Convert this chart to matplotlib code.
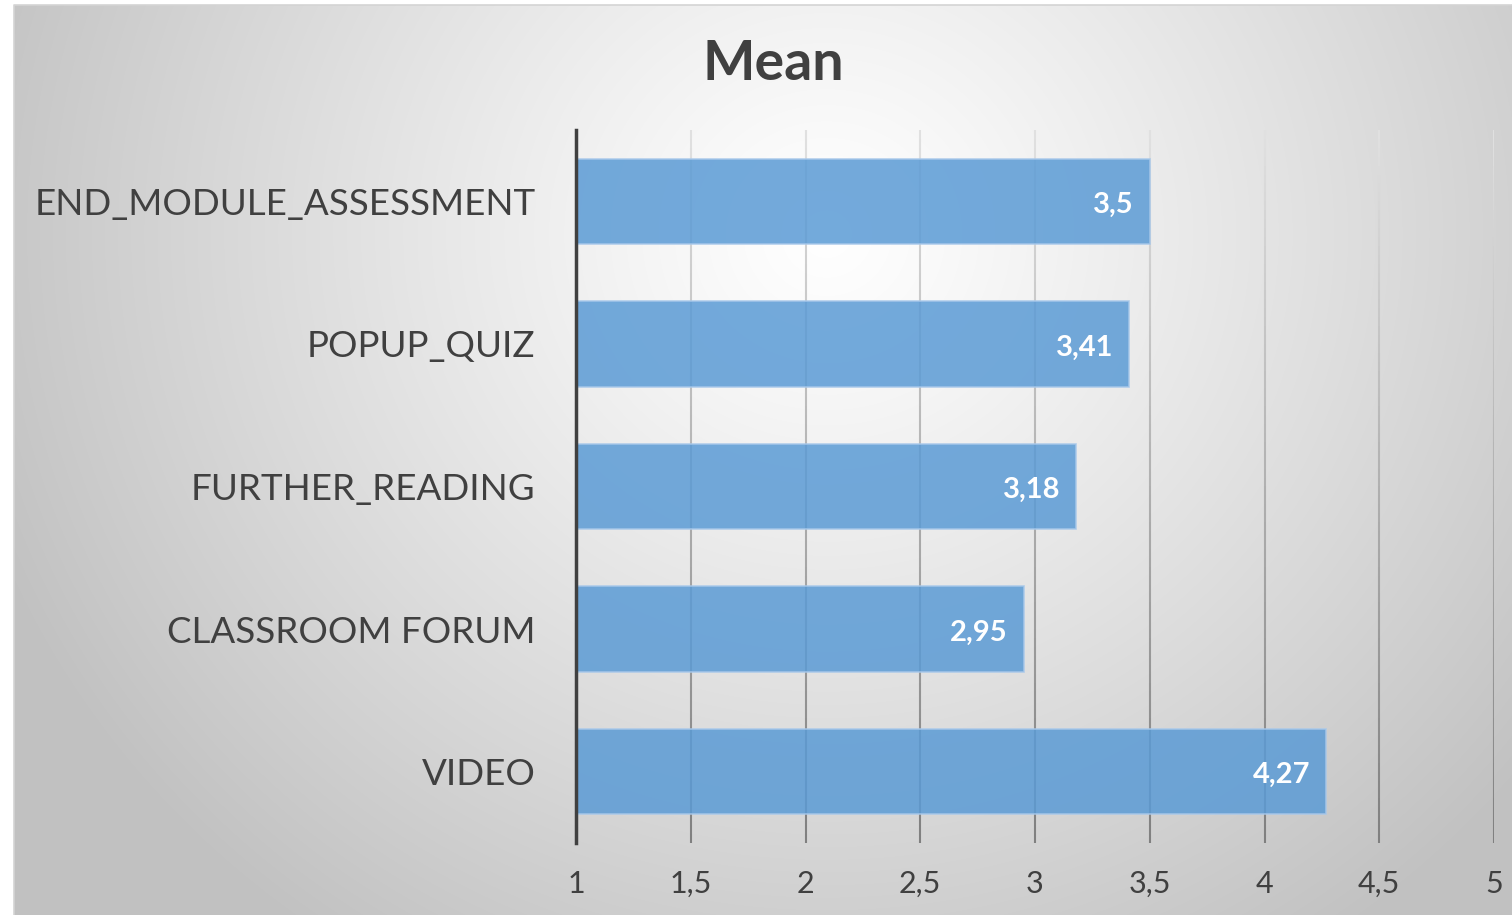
import numpy as np
import matplotlib.pyplot as plt
from matplotlib.collections import LineCollection

# ─────────────── data ───────────────
categories = ['END_MODULE_ASSESSMENT', 'POPUP_QUIZ', 'FURTHER_READING', 'CLASSROOM FORUM', 'VIDEO']
means = [3.5, 3.41, 3.18, 2.95, 4.27]
value_labels = ['3,5', '3,41', '3,18', '2,95', '4,27']
x_ticks = [1, 1.5, 2, 2.5, 3, 3.5, 4, 4.5, 5]
x_tick_labels = ['1', '1,5', '2', '2,5', '3', '3,5', '4', '4,5', '5']

plt.rcParams['font.family'] = ['Lato', 'DejaVu Sans']
text_color = '#404040'

W, H = 1512, 915
fig = plt.figure(figsize=(W / 100, H / 100), dpi=100)

# ─────────────── background (radial gradient panel) ───────────────
bg = fig.add_axes([0, 0, 1, 1], zorder=-10)
bg.set_xlim(0, W)
bg.set_ylim(H, 0)
bg.axis('off')
yy, xx = np.mgrid[0:H, 0:W]
cx, cy = 820, 230
d = np.sqrt(((xx - cx) / 1.0) ** 2 + ((yy - cy) / 0.95) ** 2)
t = np.clip(d / 900.0, 0, 1) ** 1.15
shade = 1.0 - (1.0 - 0.76) * t
img = np.dstack([shade, shade, shade])
bg.imshow(img, extent=[14, W, H, 5], interpolation='bilinear', aspect='auto')
bg.plot([14, 14, W], [H, 5, 5], color='#d4d4d4', lw=1.2)

# ─────────────── bar chart ───────────────
ax = fig.add_axes([576 / W, 1 - 843 / H, (1494 - 576) / W, (843 - 130) / H])
ax.patch.set_alpha(0)
y = np.arange(len(categories))
ax.set_xlim(1, 5)
ax.set_ylim(len(categories) - 0.5, -0.5)

# gridlines darken towards the bottom
n_seg = 80
ys = np.linspace(-0.5, len(categories) - 0.5, n_seg + 1)
for xv in x_ticks[1:]:
    segs = [[(xv, ys[i]), (xv, ys[i + 1])] for i in range(n_seg)]
    frac = np.linspace(0, 1, n_seg)
    g = 0.88 - 0.38 * frac
    cols = np.column_stack([g, g, g])
    ax.add_collection(LineCollection(segs, colors=cols, linewidths=1.5, zorder=1))

ax.barh(y, [m - 1 for m in means], left=1, height=0.6, color='#5b9bd5', alpha=0.85,
        edgecolor='#a8c8ea', linewidth=1.2, zorder=2)

for yi, m, lab in zip(y, means, value_labels):
    ax.text(m - 0.07, yi + 0.025, lab, ha='right', va='center', color='white',
            fontsize=21, fontweight='bold', zorder=3)

for s in ['top', 'right', 'bottom']:
    ax.spines[s].set_visible(False)
ax.spines['left'].set_color('#404040')
ax.spines['left'].set_linewidth(2.5)
ax.spines['left'].set_zorder(4)

ax.set_yticks(y)
ax.set_yticklabels(categories, fontsize=26.5, color=text_color)
ax.set_xticks(x_ticks)
ax.set_xticklabels(x_tick_labels, fontsize=22, color=text_color)
ax.tick_params(axis='y', length=0, pad=29)
ax.tick_params(axis='x', length=0, pad=19.5)

fig.text(773 / W, 1 - 64 / H, 'Mean', ha='center', va='center', fontsize=40,
         fontweight='bold', color=text_color)

fig.savefig('out.png', dpi=100)
